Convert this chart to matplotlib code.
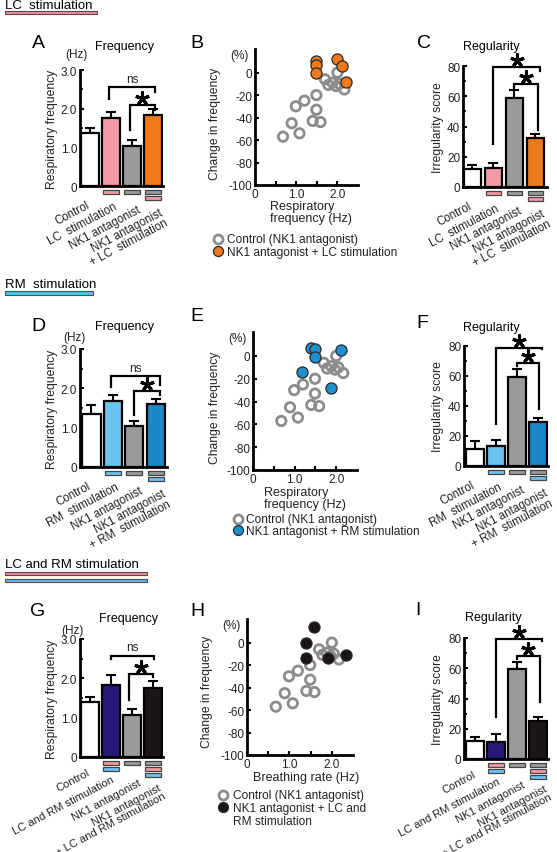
import matplotlib
matplotlib.use('Agg')
import matplotlib.pyplot as plt
import matplotlib.transforms as mtransforms
from matplotlib.patches import Rectangle
from matplotlib.lines import Line2D
from matplotlib.ticker import MultipleLocator

plt.rcParams['font.family'] = ['Liberation Sans', 'DejaVu Sans']

# ------------------------------------------------------------------ data
cond_LC = ["Control", "LC  stimulation", "NK1 antagonist", "NK1 antagonist\n+ LC  stimulation"]
cond_RM = ["Control", "RM  stimulation", "NK1 antagonist", "NK1 antagonist\n+ RM  stimulation"]
cond_LCRM = ["Control", "LC and RM stimulation", "NK1 antagonist",
             "NK1 antagonist\n+ LC and RM stimulation"]

freq_LC = [1.36, 1.76, 1.04, 1.83]
freq_LC_err = [0.13, 0.16, 0.15, 0.15]
irreg_LC = [11.7, 12.8, 58.8, 32.4]
irreg_LC_err = [2.6, 3.2, 5.1, 2.8]

freq_RM = [1.35, 1.67, 1.03, 1.59]
freq_RM_err = [0.23, 0.16, 0.15, 0.14]
irreg_RM = [11.6, 13.3, 59.6, 29.3]
irreg_RM_err = [5.1, 4.0, 4.8, 2.5]

freq_LCRM = [1.39, 1.83, 1.06, 1.75]
freq_LCRM_err = [0.13, 0.26, 0.17, 0.17]
irreg_LCRM = [12.2, 11.0, 59.2, 25.4]
irreg_LCRM_err = [2.6, 5.6, 4.8, 2.6]

# scatter: control (NK1 antagonist)
ctrl_x = [0.68, 0.89, 0.99, 1.08, 1.20, 1.49, 1.49, 1.40, 1.59, 1.70, 1.78, 1.88, 2.00, 1.97, 2.05, 2.17]
ctrl_y = [-57, -45, -30, -54, -25, -20, -33, -43, -44, -6, -11, -9, 0, -12, -10, -15]
lc_x = [1.49, 1.49, 1.49, 1.98, 2.10, 2.20]
lc_y = [10, 7, 0, 12, 6, -8]
rm_x = [1.40, 1.50, 1.48, 1.18, 2.12, 1.87]
rm_y = [7, 6, -1, -14, 5, -28]
lcrm_x = [1.57, 1.39, 1.39, 1.90, 2.34]
lcrm_y = [14, 0, -14, -14, -11]

# significance brackets: (x_left, x_right, y_top, y_left_end, y_right_end, label)
sig_freq_LC = [(0.9, 3.1, 2.56, 2.26, 2.43, 'ns'), (1.9, 3.1, 2.10, 1.45, 1.96, '*')]
sig_irreg_LC = [(1.0, 3.2, 79.3, 28.6, 77.0, '*'), (2.0, 3.1, 68.3, 65.0, 38.0, '*')]
sig_freq_RM = [(0.93, 3.2, 2.32, 2.03, 2.09, 'ns'), (2.0, 3.2, 1.94, 1.31, 1.82, '*')]
sig_irreg_RM = [(1.0, 3.2, 78.9, 27.8, 77.8, '*'), (2.0, 3.05, 68.9, 66.7, 37.8, '*')]
sig_freq_LCRM = [(1.0, 3.07, 2.58, 2.49, 2.49, 'ns'), (1.86, 3.0, 2.11, 1.44, 2.03, '*')]
sig_irreg_LCRM = [(1.0, 3.2, 79.6, 27.6, 77.8, '*'), (2.0, 3.1, 68.1, 66.3, 37.6, '*')]

# ------------------------------------------------------------------ style
PINK = '#f49aa6'
ORANGE = '#ee7a1c'
GRAY = '#9a9a9a'
LBLUE = '#6cc3ef'
BLUE = '#1a88c9'
NAVY = '#26197a'
BLACK = '#1b1515'
HDR_PINK = '#f28c9a'
HDR_BLUE = '#5bbdf0'
CTRL_EDGE = '#8c8c8c'

W, H = 557, 853
fig = plt.figure(figsize=(W / 100, H / 100), dpi=100)
PIX = mtransforms.Affine2D().scale(1 / W, -1 / H).translate(0, 1) + fig.transFigure


def add_ax(l, t, r, b):
    return fig.add_axes([l / W, 1 - b / H, (r - l) / W, (b - t) / H])


def ftext(x, y, s, **kw):
    kw.setdefault('ha', 'center')
    kw.setdefault('va', 'center')
    fig.text(x / W, 1 - y / H, s, **kw)


def header(x0, x1, y_text, s, bars):
    ftext(x0, y_text, s, ha='left', fontsize=9.5)
    for (yb, col) in bars:
        fig.add_artist(Rectangle((x0, yb), x1 - x0, 3.6, transform=PIX,
                                 facecolor=col, edgecolor='#5a4a4a', lw=0.8))


def style_spines(ax):
    for s in ['top', 'right']:
        ax.spines[s].set_visible(False)
    for s in ['left', 'bottom']:
        ax.spines[s].set_linewidth(2.0)


def bar_panel(box, vals, errs, colors, names, stim, ytop, major, minor, fmt, xlim,
              brackets, ldx, ldy, lfs=8.3):
    l, t, r, b = box
    ax = add_ax(l, t, r, b)
    x = list(range(len(vals)))
    ax.bar(x, vals, width=0.85, color=colors, edgecolor='black', linewidth=1.6, zorder=3)
    ax.errorbar(x, vals, yerr=[[0] * len(vals), errs], fmt='none', ecolor='black',
                elinewidth=1.5, capsize=3.5, capthick=1.5, zorder=2)
    ax.set_xlim(*xlim)
    ax.set_ylim(0, ytop)
    style_spines(ax)
    ax.set_xticks([])
    ax.yaxis.set_major_locator(MultipleLocator(major))
    ax.yaxis.set_minor_locator(MultipleLocator(minor))
    ax.set_yticklabels([fmt(v) for v in ax.get_yticks()])
    ax.tick_params(axis='y', which='major', direction='in', length=3, width=1.5,
                   labelsize=8.5, pad=2, labelcolor='#222222')
    ax.tick_params(axis='y', which='minor', direction='in', length=2, width=1.2)
    trans = mtransforms.blended_transform_factory(ax.transData, PIX)
    # stimulation indicator rectangles
    for i, cols in enumerate(stim):
        for k, c in enumerate(cols):
            ax.add_patch(Rectangle((i - 0.37, b + 4 + 6 * k), 0.74, 3.8, transform=trans,
                                   facecolor=c, edgecolor='#444444', lw=0.9, clip_on=False))
    # category labels
    for i, name in enumerate(names):
        tr = mtransforms.offset_copy(trans, fig=fig, x=ldx[i], y=0, units='dots')
        ax.text(i, b + ldy[i], name, transform=tr, rotation=28, rotation_mode='anchor',
                ha='right', va='top', fontsize=lfs, color='#222222', linespacing=1.0)
    # brackets
    for (x1, x2, yt, yl, yr, lab) in brackets:
        ax.plot([x1, x1, x2, x2], [yl, yt, yt, yr], color='black', lw=1.6,
                clip_on=False, zorder=4, solid_joinstyle='miter')
        xm = (x1 + x2) / 2
        if lab == 'ns':
            ax.annotate('ns', (xm, yt), xytext=(0, 1.5), textcoords='offset points',
                        ha='center', va='bottom', fontsize=8.5, color='#222222')
        else:
            st = mtransforms.offset_copy(ax.transData, fig=fig, x=0, y=7, units='dots')
            ax.plot([xm], [yt], transform=st, marker=(5, 2, 0), markersize=10,
                    markeredgewidth=2.2, color='black', clip_on=False, zorder=5,
                    linestyle='none')
    return ax


def scatter_panel(box, fx, fy, fcol, xlabel_lines, xlab_pos, ylab_pos, pct_pos):
    l, t, r, b = box
    ax = add_ax(l, t, r, b)
    ax.scatter(ctrl_x, ctrl_y, s=46, facecolors='none', edgecolors=CTRL_EDGE,
               linewidths=2.0, zorder=3, clip_on=False)
    ax.scatter(fx, fy, s=64, facecolors=fcol, edgecolors='#2a2a2a', linewidths=0.9,
               zorder=4, clip_on=False)
    ax.set_xlim(0, 2.5)
    ax.set_ylim(-100, 21)
    style_spines(ax)
    ax.set_xticks([0, 0.5, 1.0, 1.5, 2.0])
    ax.set_xticklabels(['0', '', '1.0', '', '2.0'])
    ax.set_yticks([-100, -80, -60, -40, -20, 0])
    ax.set_yticklabels(['-100', '-80', '-60', '-40', '-20', '0'])
    ax.tick_params(direction='in', length=3, width=1.5, labelsize=8.5, pad=2,
                   labelcolor='#222222')
    ftext(pct_pos[0], pct_pos[1], '(%)', fontsize=8.5, color='#222222')
    ftext(ylab_pos[0], ylab_pos[1], 'Change in frequency', rotation=90, fontsize=8.7,
          color='#222222')
    ftext(xlab_pos[0], xlab_pos[1], xlabel_lines, ha='left', va='top', fontsize=9,
          linespacing=0.95, color='#222222')
    return ax


def legend_rows(x_marker, x_text, rows, fcol):
    (y1, y2), lines2 = rows
    fig.add_artist(Line2D([x_marker], [y1], transform=PIX, marker='o', markersize=6.5,
                          markerfacecolor='none', markeredgecolor=CTRL_EDGE,
                          markeredgewidth=2.0, linestyle='none'))
    fig.add_artist(Line2D([x_marker], [y2], transform=PIX, marker='o', markersize=7.2,
                          markerfacecolor=fcol, markeredgecolor='#2a2a2a',
                          markeredgewidth=0.9, linestyle='none'))
    ftext(x_text, y1, 'Control (NK1 antagonist)', ha='left', fontsize=8.6, color='#222222')
    ftext(x_text, y2 - 5, lines2, ha='left', va='top', fontsize=8.6, color='#222222',
          linespacing=1.15)


def fmt1(v):
    return '0' if v == 0 else f'{v:.1f}'


def fmt0(v):
    return f'{v:.0f}'


# ------------------------------------------------------------------ row 1: LC
header(5, 97, 6, 'LC  stimulation', [(11.5, HDR_PINK)])
ftext(38, 43, 'A', fontsize=14)
ftext(124, 47, 'Frequency', fontsize=9)
ftext(76, 55, '(Hz)', fontsize=8.5, color='#222222')
ftext(52, 129, 'Respiratory frequency', rotation=90, fontsize=8.7, color='#222222')
bar_panel((80, 71, 163, 187), freq_LC, freq_LC_err, ['white', PINK, GRAY, ORANGE], cond_LC,
          [[], [PINK], [GRAY], [GRAY, PINK]], 3.0, 1.0, 0.5, fmt1, (-0.48, 3.48),
          sig_freq_LC, [-4, 2, 5, 6], [13, 14, 17, 20])

ftext(197, 44, 'B', fontsize=14)
scatter_panel((255, 50, 358, 186), lc_x, lc_y, ORANGE, 'Respiratory\nfrequency (Hz)',
              (270, 201), (215, 124), (239, 56))
legend_rows(218, 227, ((240, 252), 'NK1 antagonist + LC stimulation'), ORANGE)

ftext(424, 44, 'C', fontsize=14)
ftext(491, 47, 'Regularity', fontsize=9)
ftext(438, 128, 'Irregularity score', rotation=90, fontsize=8.7, color='#222222')
bar_panel((463, 67, 547, 188), irreg_LC, irreg_LC_err, ['white', PINK, GRAY, ORANGE], cond_LC,
          [[], [PINK], [GRAY], [GRAY, PINK]], 80, 20, 10, fmt0, (-0.45, 3.55),
          sig_irreg_LC, [-4, 2, 4, 6], [13, 15, 17, 20])

# ------------------------------------------------------------------ row 2: RM
header(5, 93, 285, 'RM  stimulation', [(292, HDR_BLUE)])
ftext(38, 327, 'D', fontsize=14)
ftext(125, 327, 'Frequency', fontsize=9)
ftext(74, 338, '(Hz)', fontsize=8.5, color='#222222')
ftext(52, 409, 'Respiratory frequency', rotation=90, fontsize=8.7, color='#222222')
bar_panel((80, 350, 167, 468), freq_RM, freq_RM_err, ['white', LBLUE, GRAY, BLUE], cond_RM,
          [[], [LBLUE], [GRAY], [GRAY, LBLUE]], 3.0, 1.0, 0.5, fmt1, (-0.53, 3.52),
          sig_freq_RM, [-4, 2, 5, 6], [13, 14, 17, 20])

ftext(197, 317, 'E', fontsize=14)
scatter_panel((253, 333, 357, 471), rm_x, rm_y, '#1f8fd0', 'Respiratory\nfrequency (Hz)',
              (264, 487), (215, 408), (237, 339))
legend_rows(238, 246, ((520, 531), 'NK1 antagonist + RM stimulation'), '#1f8fd0')

ftext(422, 324, 'F', fontsize=14)
ftext(491, 328, 'Regularity', fontsize=9)
ftext(438, 407, 'Irregularity score', rotation=90, fontsize=8.7, color='#222222')
bar_panel((464, 347, 548, 467), irreg_RM, irreg_RM_err, ['white', LBLUE, GRAY, BLUE], cond_RM,
          [[], [LBLUE], [GRAY], [GRAY, LBLUE]], 80, 20, 10, fmt0, (-0.52, 3.48),
          sig_irreg_RM, [-4, 2, 4, 6], [13, 15, 17, 20])

# ------------------------------------------------------------------ row 3: LC + RM
header(5, 147, 565, 'LC and RM stimulation', [(572.5, HDR_PINK), (579.5, HDR_BLUE)])
ftext(38, 612, 'G', fontsize=14)
ftext(128, 619, 'Frequency', fontsize=9)
ftext(72, 631, '(Hz)', fontsize=8.5, color='#222222')
ftext(52, 699, 'Respiratory frequency', rotation=90, fontsize=8.7, color='#222222')
bar_panel((80, 640, 163, 758), freq_LCRM, freq_LCRM_err, ['white', NAVY, GRAY, BLACK], cond_LCRM,
          [[], [PINK, LBLUE], [GRAY], [GRAY, PINK, LBLUE]], 3.0, 1.0, 0.5, fmt1, (-0.48, 3.48),
          sig_freq_LCRM, [-3, 0, 6, 5], [10, 17, 20, 25], lfs=8.0)

ftext(197, 612, 'H', fontsize=14)
scatter_panel((247, 620, 353, 756), lcrm_x, lcrm_y, BLACK, 'Breathing rate (Hz)',
              (253, 772), (207, 692), (231, 626))
legend_rows(223, 233, ((796, 808), 'NK1 antagonist + LC and\nRM stimulation'), BLACK)

ftext(418, 611, 'I', fontsize=14)
ftext(493, 618, 'Regularity', fontsize=9)
ftext(438, 700, 'Irregularity score', rotation=90, fontsize=8.7, color='#222222')
bar_panel((464, 639, 548, 760), irreg_LCRM, irreg_LCRM_err, ['white', NAVY, GRAY, BLACK], cond_LCRM,
          [[], [PINK, LBLUE], [GRAY], [GRAY, PINK, LBLUE]], 80, 20, 10, fmt0, (-0.52, 3.48),
          sig_irreg_LCRM, [-2, 1, 5, 6], [10, 17, 20, 24], lfs=8.0)

fig.savefig('out.png', dpi=100)
